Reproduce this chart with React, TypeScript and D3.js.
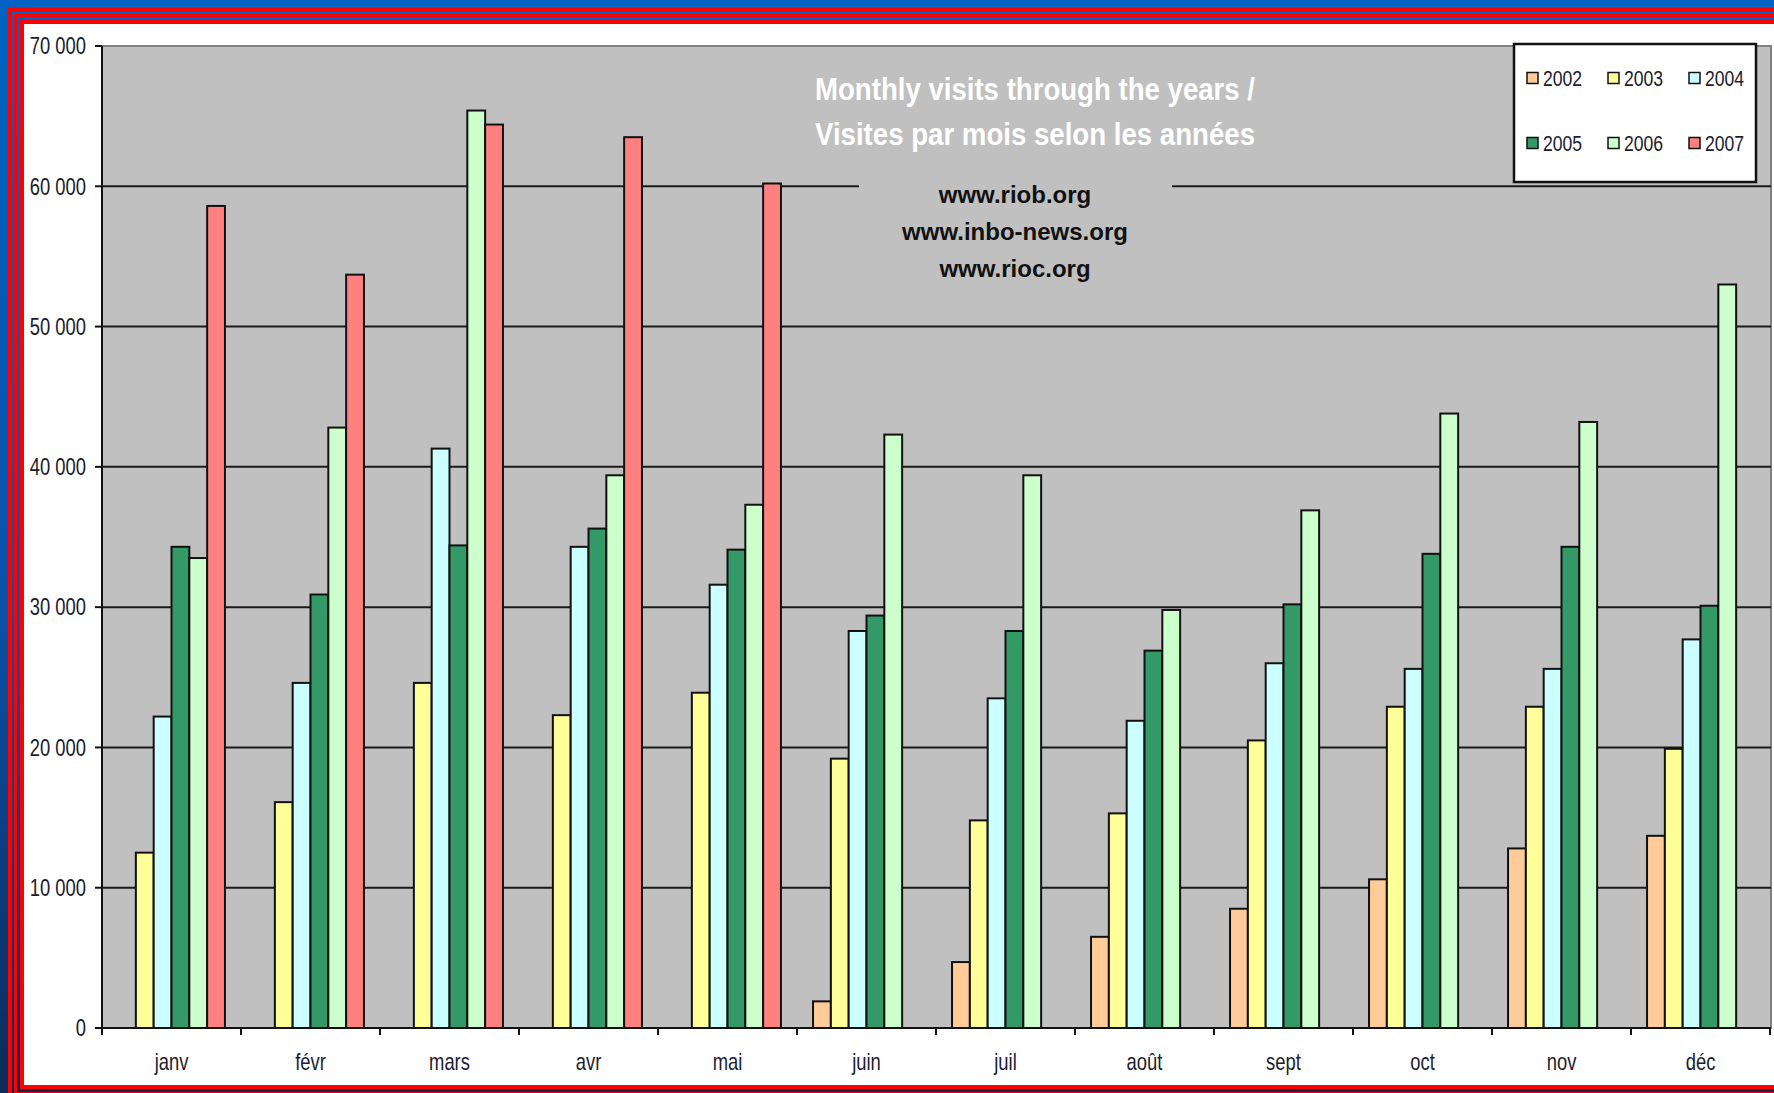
import React from "react";
import * as d3 from "d3";

const months = ["janv", "févr", "mars", "avr", "mai", "juin", "juil", "août", "sept", "oct", "nov", "déc"];
const years = ["2002", "2003", "2004", "2005", "2006", "2007"];
const s2002 = [null, null, null, null, null, 1900, 4700, 6500, 8500, 10600, 12800, 13700];
const s2003 = [12500, 16100, 24600, 22300, 23900, 19200, 14800, 15300, 20500, 22900, 22900, 19900];
const s2004 = [22200, 24600, 41300, 34300, 31600, 28300, 23500, 21900, 26000, 25600, 25600, 27700];
const s2005 = [34300, 30900, 34400, 35600, 34100, 29400, 28300, 26900, 30200, 33800, 34300, 30100];
const s2006 = [33500, 42800, 65400, 39400, 37300, 42300, 39400, 29800, 36900, 43800, 43200, 53000];
const s2007 = [58600, 53700, 64400, 63500, 60200, null, null, null, null, null, null, null];
const seriesValues = [s2002, s2003, s2004, s2005, s2006, s2007];
const seriesColors = ["#FFCC99", "#FFFF99", "#CCFFFF", "#339966", "#CCFFCC", "#FF8080"];
const yTicks = [0, 10000, 20000, 30000, 40000, 50000, 60000, 70000];
const titleLines = ["Monthly visits through the years /", "Visites par mois selon les années"];
const urlLines = ["www.riob.org", "www.inbo-news.org", "www.rioc.org"];

const W = 1774;
const H = 1093;
const plot = { left: 102, right: 1771, top: 46, bottom: 1028 };
const sans = "'Liberation Sans', Arial, sans-serif";
const NARROW = 0.8;

const fmt = (v: number) => (v === 0 ? "0" : d3.format(",")(v).replace(/,/g, " "));

function NText(props: {
  x: number;
  y: number;
  anchor?: "start" | "middle" | "end";
  size: number;
  children: React.ReactNode;
  dy?: string;
}) {
  return (
    <g transform={`translate(${props.x},${props.y}) scale(${NARROW},1)`}>
      <text
        x={0}
        y={0}
        dy={props.dy}
        textAnchor={props.anchor || "start"}
        fontFamily={sans}
        fontSize={props.size}
        fill="#1c1c30"
      >
        {props.children}
      </text>
    </g>
  );
}

export default function App() {
  const x0 = d3.scaleBand<string>().domain(months).range([plot.left, plot.left + 139 * 12]).padding(0);
  const bw = x0.bandwidth();
  const gapFrac = 0.9 / 7.8;
  const x1 = d3
    .scaleBand<string>()
    .domain(years)
    .range([bw * gapFrac, bw * (1 - gapFrac)])
    .padding(0);
  const y = d3.scaleLinear().domain([0, 70000]).range([plot.bottom, plot.top]);

  const whiteL = 24;
  const whiteT = 24;
  const whiteB = 1085;
  const stripes = [
    { o: 16, c: "#FF0000" },
    { o: 12, c: "bg" },
    { o: 10, c: "#FF0000" },
    { o: 7, c: "bg" },
    { o: 4, c: "#FF0000" },
    { o: 0, c: "#FFFFFF" },
  ];

  return (
    <svg
      width={W}
      height={H}
      style={{ position: "absolute", left: 0, top: 0, display: "block" }}
      xmlns="http://www.w3.org/2000/svg"
    >
      <defs>
        <linearGradient id="bg" x1="0" y1="0" x2="0" y2="1">
          <stop offset="0" stopColor="#0062C4" />
          <stop offset="0.55" stopColor="#0A52A8" />
          <stop offset="1" stopColor="#0C2B58" />
        </linearGradient>
      </defs>
      <rect x={0} y={0} width={W} height={H} fill="url(#bg)" />
      {stripes.map((s, i) => (
        <rect
          key={i}
          x={whiteL - s.o}
          y={whiteT - s.o}
          width={W + 40}
          height={whiteB - whiteT + 2 * s.o}
          fill={s.c === "bg" ? "url(#bg)" : s.c}
        />
      ))}

      <rect x={plot.left} y={plot.top} width={plot.right - plot.left} height={plot.bottom - plot.top} fill="#C0C0C0" stroke="#808080" strokeWidth={2} />

      {yTicks
        .filter((t) => t > 0 && t < 70000)
        .map((t) => (
          <line key={t} x1={plot.left} x2={plot.right} y1={y(t)} y2={y(t)} stroke="#1a1a1a" strokeWidth={2} />
        ))}

      <rect x={859} y={160} width={313} height={130} fill="#C0C0C0" />

      {months.map((m, mi) => (
        <g key={m} transform={`translate(${x0(m)},0)`}>
          {years.map((yr, si) => {
            const v = seriesValues[si][mi];
            if (v == null) return null;
            return (
              <rect
                key={yr}
                x={x1(yr)}
                y={y(v)}
                width={x1.bandwidth()}
                height={y(0) - y(v)}
                fill={seriesColors[si]}
                stroke="#111"
                strokeWidth={2}
              />
            );
          })}
        </g>
      ))}

      <line x1={plot.left} x2={plot.left} y1={plot.top} y2={plot.bottom} stroke="#111" strokeWidth={2} />
      <line x1={plot.left} x2={plot.right} y1={plot.bottom} y2={plot.bottom} stroke="#111" strokeWidth={2} />
      {yTicks.map((t) => (
        <g key={t}>
          <line x1={plot.left - 7} x2={plot.left} y1={y(t)} y2={y(t)} stroke="#111" strokeWidth={2} />
          <NText x={86} y={y(t)} dy="0.36em" anchor="end" size={23}>
            {fmt(t)}
          </NText>
        </g>
      ))}
      {[...months.map((m) => x0(m) as number), (x0(months[11]) as number) + bw].map((xv, i) => (
        <line key={i} x1={xv} x2={xv} y1={plot.bottom} y2={plot.bottom + 7} stroke="#111" strokeWidth={2} />
      ))}
      {months.map((m) => (
        <NText key={m} x={(x0(m) as number) + bw / 2} y={1070} anchor="middle" size={23}>
          {m}
        </NText>
      ))}

      {titleLines.map((t, i) => (
        <text
          key={t}
          x={1035}
          y={100 + i * 45}
          textAnchor="middle"
          fontFamily={sans}
          fontWeight="bold"
          fontSize={32}
          fill="#FFFFFF"
          textLength={440}
          lengthAdjust="spacingAndGlyphs"
        >
          {t}
        </text>
      ))}
      {urlLines.map((t, i) => (
        <text
          key={t}
          x={1015}
          y={203 + i * 37}
          textAnchor="middle"
          fontFamily={sans}
          fontWeight="bold"
          fontSize={24}
          fill="#111"
        >
          {t}
        </text>
      ))}

      <rect x={1514} y={44} width={242} height={138} fill="#FFFFFF" stroke="#111" strokeWidth={2.5} />
      {years.map((yr, i) => {
        const col = i % 3;
        const row = Math.floor(i / 3);
        const sx = 1527 + col * 81;
        const sy = 78 + row * 65;
        return (
          <g key={yr}>
            <rect x={sx} y={sy - 5.5} width={11} height={11} fill={seriesColors[i]} stroke="#111" strokeWidth={1.5} />
            <NText x={sx + 16} y={sy} dy="0.36em" size={22}>
              {yr}
            </NText>
          </g>
        );
      })}
    </svg>
  );
}
